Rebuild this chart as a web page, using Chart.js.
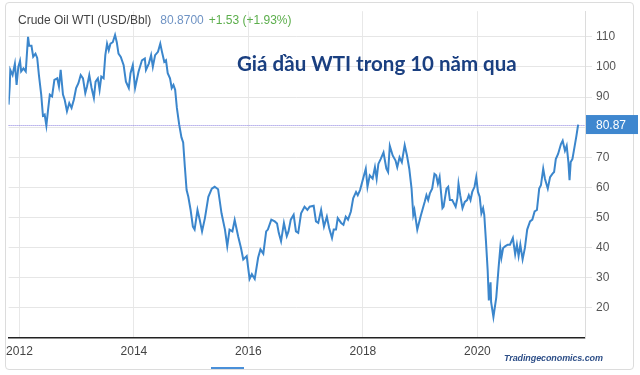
<!DOCTYPE html>
<html>
<head>
<meta charset="utf-8">
<script src="https://cdn.jsdelivr.net/npm/chart.js@4.4.0/dist/chart.umd.min.js"></script>
<style>
  html, body { margin: 0; padding: 0; background: #fff; }
  body { width: 640px; height: 375px; position: relative; overflow: hidden; font-family: "Liberation Sans", Arial, sans-serif; }
  #frame { position: absolute; left: 5px; top: 2px; width: 627px; height: 366px; border: 1px solid #dcdcdc; border-radius: 4px; }
  #chart { position: absolute; left: 0; top: 0; }
  .txt { position: absolute; white-space: nowrap; }
  #head { left: 18px; top: 13px; font-size: 12px; color: #444; }
  #head .last { color: #6f93c4; margin-left: 9px; }
  #head .chg { color: #5cae4c; margin-left: 5px; }
  #title { left: 237px; top: 51px; font-family: Lato, "Noto Sans", sans-serif; font-weight: bold; font-size: 20.5px; color: #1a3f80; }
  #src { left: 504px; top: 353px; font-size: 9px; font-weight: bold; font-style: italic; color: #2e4f88; letter-spacing: -0.1px; }
  #bar { position: absolute; left: 211px; top: 367px; width: 33px; height: 2px; background: #4a90d9; }
</style>
</head>
<body>
<div id="frame"></div>
<canvas id="chart" width="640" height="375"></canvas>
<div class="txt" id="head">Crude Oil WTI (USD/Bbl)<span class="last">80.8700</span><span class="chg">+1.53 (+1.93%)</span></div>
<div class="txt" id="title">Giá dầu WTI trong 10 năm qua</div>
<div class="txt" id="src">Tradingeconomics.com</div>
<div id="bar"></div>
<script>
// decimal year of each reading
const dates = [
  2011.81, 2011.83, 2011.84, 2011.88, 2011.92, 2011.95, 2011.98, 2012.01, 2012.03, 2012.07,
  2012.11, 2012.15, 2012.17, 2012.21, 2012.24, 2012.28, 2012.31, 2012.34, 2012.38, 2012.41,
  2012.44, 2012.47, 2012.50, 2012.53, 2012.57, 2012.61, 2012.66, 2012.69, 2012.72, 2012.76,
  2012.79, 2012.83, 2012.87, 2012.91, 2012.95, 2012.99, 2013.03, 2013.07, 2013.11, 2013.15,
  2013.18, 2013.22, 2013.26, 2013.30, 2013.33, 2013.37, 2013.40, 2013.43, 2013.47, 2013.50,
  2013.53, 2013.56, 2013.59, 2013.63, 2013.67, 2013.70, 2013.73, 2013.77, 2013.82, 2013.86,
  2013.91, 2013.94, 2013.98, 2014.02, 2014.08, 2014.14, 2014.19, 2014.21, 2014.26, 2014.30,
  2014.33, 2014.37, 2014.42, 2014.46, 2014.49, 2014.53, 2014.56, 2014.59, 2014.63, 2014.66,
  2014.69, 2014.72, 2014.75, 2014.79, 2014.83, 2014.86, 2014.89, 2014.92, 2014.95, 2014.99,
  2015.03, 2015.06, 2015.11, 2015.15, 2015.19, 2015.24, 2015.30, 2015.36, 2015.41, 2015.47,
  2015.53, 2015.59, 2015.63, 2015.67, 2015.72, 2015.76, 2015.82, 2015.87, 2015.91, 2015.97,
  2016.02, 2016.06, 2016.11, 2016.17, 2016.21, 2016.26, 2016.31, 2016.34, 2016.40, 2016.46,
  2016.50, 2016.53, 2016.57, 2016.62, 2016.67, 2016.70, 2016.74, 2016.79, 2016.83, 2016.87,
  2016.92, 2016.98, 2017.03, 2017.07, 2017.14, 2017.18, 2017.22, 2017.27, 2017.32, 2017.37,
  2017.41, 2017.46, 2017.49, 2017.53, 2017.56, 2017.62, 2017.66, 2017.70, 2017.74, 2017.79,
  2017.83, 2017.88, 2017.91, 2017.95, 2018.01, 2018.05, 2018.08, 2018.12, 2018.17, 2018.21,
  2018.24, 2018.27, 2018.31, 2018.36, 2018.41, 2018.44, 2018.47, 2018.52, 2018.57, 2018.60,
  2018.64, 2018.68, 2018.73, 2018.77, 2018.81, 2018.85, 2018.88, 2018.90, 2018.95, 2019.01,
  2019.06, 2019.08, 2019.11, 2019.14, 2019.17, 2019.21, 2019.25, 2019.28, 2019.31, 2019.34,
  2019.39, 2019.41, 2019.46, 2019.49, 2019.52, 2019.56, 2019.59, 2019.62, 2019.65, 2019.67,
  2019.70, 2019.74, 2019.78, 2019.82, 2019.85, 2019.88, 2019.91, 2019.95, 2019.98, 2020.01,
  2020.04, 2020.07, 2020.10, 2020.12, 2020.15, 2020.18, 2020.20, 2020.23, 2020.24, 2020.28,
  2020.33, 2020.37, 2020.40, 2020.42, 2020.45, 2020.49, 2020.53, 2020.57, 2020.62, 2020.66,
  2020.69, 2020.72, 2020.75, 2020.79, 2020.83, 2020.87, 2020.92, 2020.96, 2021.00, 2021.04,
  2021.08, 2021.11, 2021.15, 2021.18, 2021.23, 2021.27, 2021.31, 2021.34, 2021.37, 2021.41,
  2021.46, 2021.49, 2021.53, 2021.56, 2021.59, 2021.61, 2021.63, 2021.66, 2021.70, 2021.73,
  2021.76
];

// WTI crude, USD per barrel
const prices = [
  87.5, 93.6, 99.0, 97.3, 101.0, 94.0, 100.0, 102.0, 98.5, 99.5,
  98.5, 110.0, 107.0, 107.0, 103.4, 104.4, 103.0, 97.3, 90.8, 83.8,
  84.2, 80.5, 85.8, 90.8, 90.2, 95.7, 96.2, 93.5, 99.0, 90.8,
  89.1, 85.3, 88.0, 86.4, 89.1, 93.0, 94.6, 97.3, 96.2, 91.3,
  93.5, 97.3, 93.0, 89.7, 95.1, 96.2, 92.4, 96.8, 96.2, 103.9,
  107.7, 105.5, 107.7, 108.2, 110.6, 108.2, 104.4, 103.3, 100.6, 95.1,
  93.0, 97.9, 100.6, 93.0, 98.4, 102.2, 102.8, 99.0, 101.1, 103.9,
  100.0, 103.9, 105.0, 107.7, 105.0, 101.7, 102.2, 97.9, 96.2, 93.0,
  94.0, 92.4, 86.4, 80.9, 76.6, 74.9, 66.7, 59.1, 56.9, 52.5,
  47.0, 46.0, 52.5, 49.2, 45.4, 49.8, 56.9, 59.6, 60.2, 59.4,
  51.4, 46.0, 40.5, 46.0, 45.4, 49.2, 43.8, 39.9, 36.1, 37.2,
  29.6, 31.2, 29.6, 36.7, 39.4, 38.0, 45.4, 46.0, 49.3, 48.7,
  48.0, 44.9, 42.1, 48.2, 43.8, 45.4, 49.3, 50.9, 45.4, 44.9,
  51.4, 53.6, 52.5, 53.6, 53.9, 48.7, 48.2, 52.5, 47.0, 50.3,
  46.5, 43.2, 46.0, 46.0, 49.8, 48.2, 47.6, 50.3, 49.3, 52.0,
  56.4, 58.5, 57.4, 59.1, 63.4, 66.2, 60.2, 64.0, 62.9, 66.7,
  62.9, 67.8, 69.4, 71.6, 66.2, 65.1, 73.8, 70.6, 68.9, 66.7,
  70.0, 68.4, 74.0, 70.6, 66.2, 59.6, 50.9, 52.5, 46.0, 50.5,
  53.9, 55.2, 57.4, 55.8, 58.0, 59.6, 64.5, 64.0, 61.2, 63.4,
  53.1, 53.6, 59.6, 60.2, 55.8, 55.8, 54.7, 53.6, 56.4, 61.2,
  57.4, 53.1, 55.2, 55.8, 57.4, 55.8, 58.5, 60.2, 63.4, 58.5,
  56.9, 51.4, 53.1, 50.9, 42.1, 32.3, 22.5, 28.5, 21.9, 17.0,
  23.5, 33.3, 39.9, 36.7, 39.9, 40.5, 41.0, 41.0, 43.2, 37.8,
  41.0, 37.2, 41.0, 36.1, 39.9, 46.0, 48.7, 49.3, 52.0, 52.5,
  59.6, 60.7, 66.2, 62.9, 59.6, 63.4, 64.5, 65.1, 69.4, 71.1,
  74.4, 75.5, 72.2, 73.8, 68.4, 62.4, 68.4, 69.4, 73.8, 77.1,
  80.87
];

const lastPrice = 80.87;
const yearTicks = [2012, 2014, 2016, 2018, 2020];
const priceTicks = [20, 30, 40, 50, 60, 70, 80, 90, 100, 110];

const lastPriceMarker = {
  id: 'lastPrice',
  beforeDatasetsDraw(chart) {
    const { ctx, chartArea } = chart;
    const y = Math.round(chart.scales.y.getPixelForValue(lastPrice)) + 0.5;
    ctx.save();
    ctx.strokeStyle = '#8a7fe0';
    ctx.lineWidth = 1;
    ctx.setLineDash([1, 1]);
    ctx.beginPath();
    ctx.moveTo(chartArea.left, y);
    ctx.lineTo(chartArea.right, y);
    ctx.stroke();
    ctx.restore();
  },
  afterDraw(chart) {
    const { ctx, chartArea } = chart;
    const y = chart.scales.y.getPixelForValue(lastPrice);
    ctx.save();
    ctx.fillStyle = '#3f87cf';
    ctx.fillRect(chartArea.right + 1, y - 9.5, 52, 19);
    ctx.fillStyle = '#fff';
    ctx.font = '12px "Liberation Sans", Arial, sans-serif';
    ctx.textAlign = 'center';
    ctx.textBaseline = 'middle';
    ctx.fillText(lastPrice.toFixed(2), chartArea.right + 26, y + 1);
    ctx.restore();
  }
};

const ctx = document.getElementById('chart');

new Chart(ctx, {
    type: 'line',
    data: {
        datasets: [{
            data: dates.map((d, i) => ({ x: d, y: prices[i] })),
            borderColor: '#3b86cc',
            borderWidth: 2,
            pointRadius: 0,
            tension: 0
        }]
    },
    options: {
        responsive: false,
        animation: false,
        layout: {
            padding: { left: 6, top: 7, right: 0, bottom: 0 }
        },
        scales: {
            x: {
                type: 'linear',
                min: 2011.81,
                max: 2021.88,
                afterBuildTicks: (scale) => {
                    scale.ticks = yearTicks.map(v => ({ value: v }));
                },
                afterFit: (scale) => { scale.height = 37; },
                border: {
                    display: true,
                    color: '#222',
                    width: 1.5
                },
                grid: {
                    color: '#e8e8e8',
                    drawTicks: false
                },
                ticks: {
                    color: '#444',
                    padding: 6,
                    maxRotation: 0,
                    font: { size: 12, family: '"Liberation Sans", Arial, sans-serif' },
                    callback: (v) => String(v)
                }
            },
            y: {
                position: 'right',
                min: 10,
                max: 118.5,
                afterBuildTicks: (scale) => {
                    scale.ticks = priceTicks.map(v => ({ value: v }));
                },
                afterFit: (scale) => { scale.width = 55; },
                border: {
                    display: true,
                    color: '#dcdcdc'
                },
                grid: {
                    color: '#e6e6e6',
                    tickLength: 7
                },
                ticks: {
                    color: '#555',
                    padding: 4,
                    font: { size: 12, family: '"Liberation Sans", Arial, sans-serif' },
                    callback: (v) => (v === 80 ? '' : String(v))
                }
            }
        },
        plugins: {
            legend: { display: false },
            tooltip: { enabled: false }
        }
    },
    plugins: [lastPriceMarker]
});
</script>
</body>
</html>
